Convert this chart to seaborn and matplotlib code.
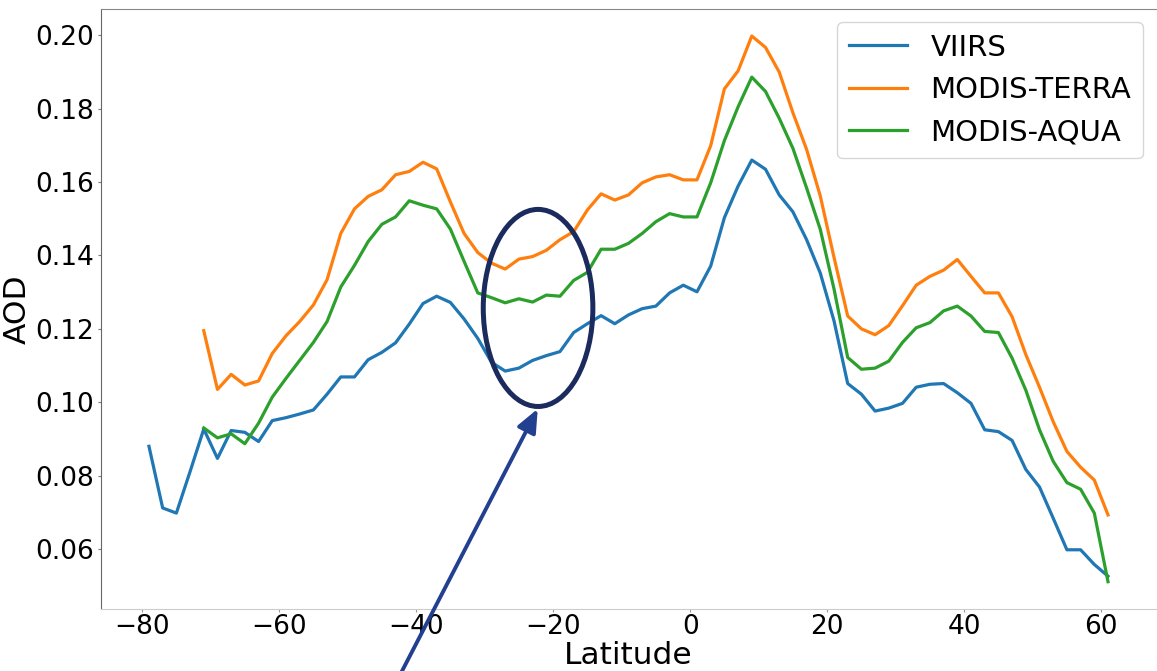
import numpy as np
import pandas as pd
import matplotlib
matplotlib.use('Agg')
import matplotlib.pyplot as plt
from matplotlib.patches import Ellipse
import seaborn as sns

# ─── Data (zonal mean AOD per 2° latitude band) ───────────────────────────────
LAT_VIIRS = list(range(-79, 62, 2))
LAT_MODIS = list(range(-71, 62, 2))

VIIRS = [0.0880, 0.0712, 0.0698, 0.0811, 0.0927, 0.0847, 0.0923, 0.0918, 0.0893, 0.0950,
         0.0958, 0.0968, 0.0979, 0.1022, 0.1069, 0.1069, 0.1116, 0.1136, 0.1162, 0.1213,
         0.1269, 0.1289, 0.1272, 0.1227, 0.1174, 0.1109, 0.1085, 0.1093, 0.1114, 0.1127,
         0.1138, 0.1190, 0.1214, 0.1236, 0.1214, 0.1238, 0.1255, 0.1262, 0.1298, 0.1319,
         0.1301, 0.1371, 0.1503, 0.1589, 0.1660, 0.1635, 0.1565, 0.1519, 0.1443, 0.1352,
         0.1222, 0.1051, 0.1022, 0.0976, 0.0984, 0.0997, 0.1041, 0.1049, 0.1051, 0.1026,
         0.0997, 0.0925, 0.0920, 0.0896, 0.0817, 0.0769, 0.0684, 0.0598, 0.0598, 0.0558,
         0.0526]

MODIS_TERRA = [0.1195, 0.1035, 0.1076, 0.1047, 0.1058, 0.1133, 0.1181, 0.1220, 0.1265, 0.1334,
               0.1460, 0.1527, 0.1561, 0.1579, 0.1620, 0.1629, 0.1654, 0.1636, 0.1546, 0.1460,
               0.1408, 0.1379, 0.1363, 0.1390, 0.1397, 0.1414, 0.1443, 0.1465, 0.1524, 0.1568,
               0.1551, 0.1565, 0.1598, 0.1614, 0.1620, 0.1606, 0.1606, 0.1699, 0.1854, 0.1903,
               0.1998, 0.1967, 0.1900, 0.1789, 0.1689, 0.1562, 0.1395, 0.1235, 0.1200, 0.1184,
               0.1209, 0.1263, 0.1319, 0.1343, 0.1360, 0.1389, 0.1343, 0.1298, 0.1298, 0.1233,
               0.1130, 0.1041, 0.0947, 0.0866, 0.0823, 0.0788, 0.0693]

MODIS_AQUA = [0.0930, 0.0903, 0.0914, 0.0887, 0.0943, 0.1014, 0.1065, 0.1114, 0.1163, 0.1220,
              0.1314, 0.1373, 0.1438, 0.1485, 0.1505, 0.1549, 0.1537, 0.1527, 0.1472, 0.1384,
              0.1298, 0.1285, 0.1271, 0.1282, 0.1273, 0.1292, 0.1289, 0.1332, 0.1354, 0.1417,
              0.1417, 0.1433, 0.1460, 0.1492, 0.1514, 0.1505, 0.1505, 0.1598, 0.1713, 0.1805,
              0.1886, 0.1847, 0.1774, 0.1692, 0.1584, 0.1471, 0.1309, 0.1122, 0.1090, 0.1093,
              0.1112, 0.1163, 0.1203, 0.1217, 0.1249, 0.1262, 0.1235, 0.1193, 0.1190, 0.1120,
              0.1033, 0.0925, 0.0839, 0.0781, 0.0763, 0.0698, 0.0511]

SERIES = [('VIIRS', LAT_VIIRS, VIIRS, '#1f77b4'),
          ('MODIS-TERRA', LAT_MODIS, MODIS_TERRA, '#ff7f0e'),
          ('MODIS-AQUA', LAT_MODIS, MODIS_AQUA, '#2ca02c')]

# ─── Figure ───────────────────────────────────────────────────────────────────
plt.rcParams['font.family'] = ['DejaVu Sans']
fig = plt.figure(figsize=(11.57, 6.71), dpi=100)
ax = fig.add_axes([0.0873, 0.0924, 0.9118, 0.8946])

for name, lat, aod, col in SERIES:
    df = pd.DataFrame({'Latitude': lat, 'AOD': aod})
    sns.lineplot(data=df, x='Latitude', y='AOD', ax=ax, color=col, linewidth=2.3,
                 label=name, estimator=None)

ax.set_xticks([-80, -60, -40, -20, 0, 20, 40, 60])
ax.set_yticks([0.06, 0.08, 0.10, 0.12, 0.14, 0.16, 0.18, 0.20])
ax.set_yticklabels([f'{v:.2f}' for v in ax.get_yticks()])
ax.tick_params(axis='x', labelsize=19, length=2.2, pad=1.5, color='#999999')
ax.tick_params(axis='y', labelsize=19, length=2.2, pad=2.5, color='#777777')

ax.set_xlabel('Latitude', fontsize=22.5)
ax.set_ylabel('AOD', fontsize=22.5)
ax.xaxis.set_label_coords(0.5, -0.054)
ax.yaxis.set_label_coords(-0.066, 0.5)

ax.spines['left'].set_color('#666666')
ax.spines['top'].set_color('#888888')
ax.spines['bottom'].set_color('#cccccc')
ax.spines['right'].set_visible(False)

leg = ax.legend(loc='upper right', fontsize=21, handlelength=2.0, borderaxespad=0.45)
for line in leg.get_lines():
    line.set_linewidth(2.3)

# ─── Highlight of the southern subtropics ─────────────────────────────────────
ax.add_patch(Ellipse((-22.2, 0.1257), width=16.0, height=0.0537, fill=False,
                     edgecolor='#1b2b5e', linewidth=3.6, zorder=5))
ax.annotate('', xy=(-22.25, 0.0982), xycoords='data',
            xytext=(0.343, -0.015), textcoords='figure fraction',
            arrowprops=dict(arrowstyle='-|>,head_length=0.7,head_width=0.3',
                            color='#22408f', lw=2.8, shrinkA=0, shrinkB=0,
                            mutation_scale=20),
            annotation_clip=False, zorder=5)

fig.savefig('out.png', dpi=100)
